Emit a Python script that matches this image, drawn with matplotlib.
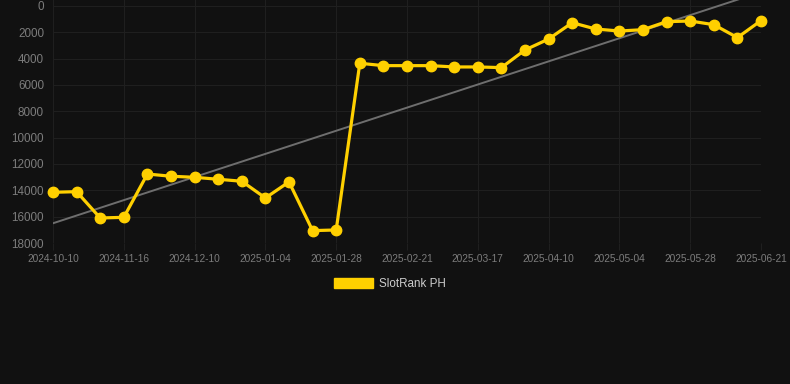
import numpy as np
import matplotlib
matplotlib.use("Agg")
from matplotlib import pyplot as plt
from matplotlib.patches import Patch

# data
dates = ['2024-10-10', '2024-10-22', '2024-11-04', '2024-11-16', '2024-11-24',
         '2024-12-02', '2024-12-10', '2024-12-18', '2024-12-27', '2025-01-04',
         '2025-01-12', '2025-01-20', '2025-01-28', '2025-02-05', '2025-02-13',
         '2025-02-21', '2025-03-01', '2025-03-09', '2025-03-17', '2025-03-25',
         '2025-04-02', '2025-04-10', '2025-04-18', '2025-04-26', '2025-05-04',
         '2025-05-12', '2025-05-20', '2025-05-28', '2025-06-05', '2025-06-13',
         '2025-06-21']
rank = [14150, 14100, 16100, 16050, 12760, 12930, 13010, 13160, 13310, 14580,
        13360, 17060, 17010, 4350, 4530, 4530, 4530, 4630, 4630, 4680,
        3340, 2510, 1270, 1750, 1900, 1800, 1190, 1140, 1420, 2400,
        1110]
series_name = 'SlotRank PH'
yticks = [0, 2000, 4000, 6000, 8000, 10000, 12000, 14000, 16000, 18000]

bg = '#111111'
yellow = '#ffd000'
grid_c = '#1f1f1f'
label_c = '#7c7c7c'

plt.rcParams['font.family'] = ['Liberation Sans', 'DejaVu Sans']

fig = plt.figure(figsize=(7.9, 3.84), dpi=100, facecolor=bg)
ax = fig.add_axes([53/790, 1 - 243/384, (761 - 53)/790, 243/384])
ax.set_facecolor(bg)

x = np.arange(len(dates))

# trend line (linear fit)
k, b = np.polyfit(x, rank, 1)
ax.plot(x, k*x + b, color='#6e6e6e', lw=1.4, zorder=2)

ax.plot(x, rank, color=yellow, lw=2.3, marker='o', ms=7.5, zorder=3, clip_on=False)

ax.set_xlim(0, len(dates) - 1)
ax.set_ylim(18000, -455)
ax.set_yticks(yticks)
ax.set_yticklabels([str(t) for t in yticks])
tick_idx = x[::3]
ax.set_xticks(tick_idx)
ax.set_xticklabels([dates[i] for i in tick_idx])

ax.grid(True, color=grid_c, lw=0.8)
ax.set_axisbelow(True)
for s in ax.spines.values():
    s.set_visible(False)
ax.tick_params(axis='y', length=0, pad=6.5, labelsize=8.4, labelcolor=label_c)
ax.tick_params(axis='x', length=5, width=0.8, color=grid_c, pad=3,
               labelsize=7.3, labelcolor=label_c)

fig.legend(handles=[Patch(facecolor=yellow, edgecolor=yellow)], labels=[series_name],
           loc='center', bbox_to_anchor=(390/790, 1 - 284/384), frameon=False,
           handlelength=3.4, handleheight=0.95, handletextpad=0.5,
           fontsize=8.4, labelcolor='#cccccc')

fig.savefig('out.png', dpi=100, facecolor=bg)
